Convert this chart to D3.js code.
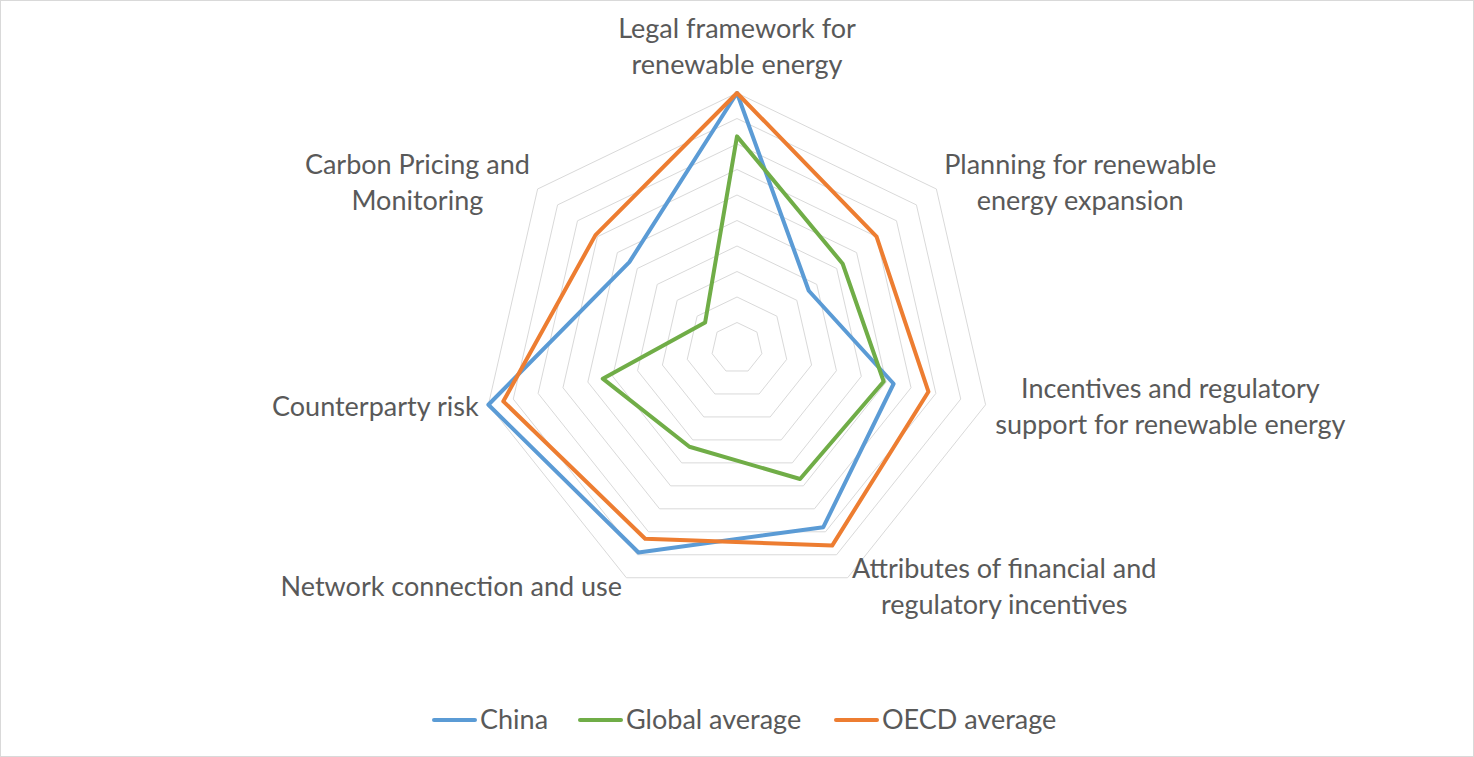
<!DOCTYPE html>
<html>
<head>
<meta charset="utf-8">
<script src="https://cdn.jsdelivr.net/npm/d3@7"></script>
<style>
  body { margin: 0; background: #fff; }
  text { font-family: Lato, "Open Sans", sans-serif; fill: #595959; }
</style>
</head>
<body>
<script>
// axes of the radar, clockwise from the top
const categories = [
  ["Legal framework for", "renewable energy"],
  ["Planning for renewable", "energy expansion"],
  ["Incentives and regulatory", "support for renewable energy"],
  ["Attributes of financial and", "regulatory incentives"],
  ["Network connection and use"],
  ["Counterparty risk"],
  ["Carbon Pricing and", "Monitoring"]
];
const seriesNames = ["China", "Global average", "OECD average"];
const china = [100, 36, 63, 78, 89, 100, 54];
const globalAvg = [83, 53, 59, 57, 43, 54, 16];
const oecd = [100, 70, 77, 86, 83, 94, 71];
const gridTicks = [10, 20, 30, 40, 50, 60, 70, 80, 90, 100];

const width = 1474, height = 757;
const cx = 737, cy = 348, radius = 255;
const colors = ["#5B9BD5", "#70AD47", "#ED7D31"];

const svg = d3.select("body").append("svg").attr("width", width).attr("height", height);

svg.append("rect").attr("x", 0.5).attr("y", 0.5).attr("width", width - 1).attr("height", height - 1)
  .attr("fill", "#fff").attr("stroke", "#D9D9D9");

const n = categories.length;
const r = d3.scaleLinear().domain([0, 100]).range([0, radius]);
const angle = i => -Math.PI / 2 + i * 2 * Math.PI / n;

const g = svg.append("g").attr("transform", `translate(${cx},${cy})`);

const radial = d3.lineRadial()
  .angle((d, i) => i * 2 * Math.PI / n)
  .radius(d => r(d))
  .curve(d3.curveLinearClosed);

// grid rings
g.selectAll(".ring").data(gridTicks).enter().append("path")
  .attr("class", "ring")
  .attr("d", t => radial(d3.range(n).map(() => t)))
  .attr("fill", "none").attr("stroke", "#D9D9D9").attr("stroke-width", 1);

// series
const data = [china, globalAvg, oecd];
g.selectAll(".series").data(data).enter().append("path")
  .attr("class", "series")
  .attr("d", d => radial(d))
  .attr("fill", "none")
  .attr("stroke", (d, i) => colors[i])
  .attr("stroke-width", 4)
  .attr("stroke-linejoin", "round");

// category labels, each block of lines centred on itself
const fontSize = 27, lineH = 36;
categories.forEach((lines, i) => {
  const a = angle(i);
  const c = Math.cos(a), s = Math.sin(a);
  const x = (r(100) + 10) * c, y = (r(100) + 10) * s;
  const anchor = c > 0.05 ? "start" : c < -0.05 ? "end" : "middle";
  const top = Math.abs(c) < 0.05 ? y - lines.length * lineH : y - lines.length * lineH / 2;
  const block = g.append("g");
  lines.forEach((ln, k) => {
    block.append("text")
      .attr("font-size", fontSize)
      .attr("y", top + k * lineH + lineH / 2)
      .attr("dy", "0.35em")
      .text(ln);
  });
  const texts = block.selectAll("text").nodes();
  const maxW = d3.max(texts.map(nd => nd.getComputedTextLength()));
  const left = anchor === "start" ? x : anchor === "end" ? x - maxW : x - maxW / 2;
  block.selectAll("text").attr("x", left + maxW / 2).attr("text-anchor", "middle");
});

// legend
const legendY = 720;
const legendX = [434, 580, 836];
const leg = svg.selectAll(".legend").data(seriesNames).enter().append("g")
  .attr("class", "legend")
  .attr("transform", (d, i) => `translate(${legendX[i]},${legendY})`);
leg.append("line").attr("x1", 0).attr("x2", 41).attr("y1", 0).attr("y2", 0)
  .attr("stroke", (d, i) => colors[i]).attr("stroke-width", 4).attr("stroke-linecap", "round");
leg.append("text").attr("x", 46).attr("dy", "0.35em").attr("font-size", fontSize).text(d => d);
</script>
</body>
</html>
